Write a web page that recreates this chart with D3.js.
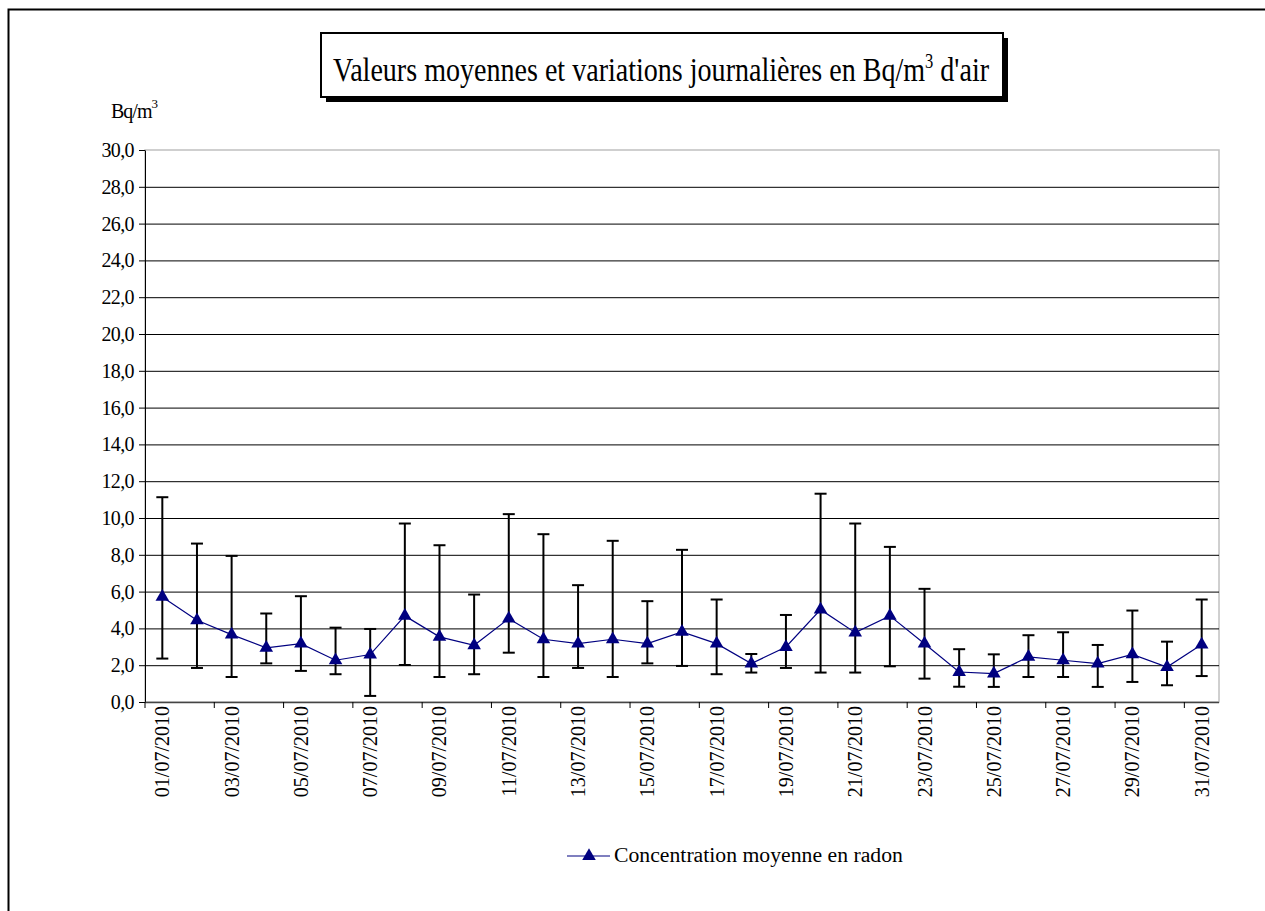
<!DOCTYPE html>
<html>
<head>
<meta charset="utf-8">
<script src="https://cdn.jsdelivr.net/npm/d3@7"></script>
<style>
  body { margin: 0; background: #fff; }
  svg text { font-family: "Liberation Serif", "Times New Roman", Tinos, "DejaVu Serif", serif; }
</style>
</head>
<body>
<svg width="1265" height="911"></svg>
<script>
// daily radon values, July 2010 (Bq/m3)
const days = d3.range(1, 32).map(d => (d < 10 ? "0" + d : "" + d) + "/07/2010");
const means = [5.71, 4.44, 3.66, 2.94, 3.17, 2.27, 2.58, 4.68, 3.54, 3.08, 4.53, 3.41, 3.17, 3.41, 3.17, 3.81,
               3.17, 2.09, 2.99, 5.02, 3.77, 4.68, 3.17, 1.63, 1.54, 2.45, 2.27, 2.09, 2.59, 1.90, 3.12];
const highs = [11.13, 8.61, 7.94, 4.81, 5.75, 4.04, 3.97, 9.70, 8.52, 5.84, 10.21, 9.12, 6.35, 8.76, 5.48, 8.27,
               5.57, 2.61, 4.73, 11.32, 9.70, 8.43, 6.15, 2.87, 2.59, 3.63, 3.79, 3.10, 4.97, 3.28, 5.57];
const lows = [2.36, 1.85, 1.36, 2.10, 1.69, 1.51, 0.33, 2.01, 1.36, 1.51, 2.68, 1.36, 1.85, 1.36, 2.10, 1.96,
              1.51, 1.60, 1.85, 1.60, 1.60, 1.94, 1.27, 0.83, 0.82, 1.36, 1.36, 0.82, 1.09, 0.91, 1.41];
const yTicks = d3.range(0, 31, 2);

const svg = d3.select("svg");
const navy = "#000080";

// outer chart frame (runs off right/bottom)
svg.append("rect")
    .attr("x", 8.5).attr("y", 9.5)
    .attr("width", 1300).attr("height", 950)
    .attr("fill", "none").attr("stroke", "#000").attr("stroke-width", 2);

const x = d3.scaleBand().domain(days).range([145, 1219]).padding(0);
const y = d3.scaleLinear().domain([0, 30]).range([702, 150]);
const cx = d => x(d) + x.bandwidth() / 2;

// plot area border
svg.append("rect")
    .attr("x", 145).attr("y", 150)
    .attr("width", 1219 - 145).attr("height", 702 - 150)
    .attr("fill", "#fff").attr("stroke", "#c0c0c0").attr("stroke-width", 1.5);

// gridlines
svg.append("g").selectAll("line")
    .data(yTicks.filter(t => t > 0 && t < 30))
    .join("line")
    .attr("x1", 145).attr("x2", 1219)
    .attr("y1", d => y(d) + 0.5).attr("y2", d => y(d) + 0.5)
    .attr("stroke", "#000").attr("stroke-width", 1);

// y axis
const yAxis = svg.append("g").attr("transform", "translate(145,0)")
    .call(d3.axisLeft(y).tickValues(yTicks).tickSize(6).tickSizeOuter(0)
        .tickFormat(d => d3.format(".1f")(d).replace(".", ",")));
yAxis.attr("font-family", null).attr("font-size", null);
yAxis.select(".domain").attr("stroke", "#000");
yAxis.selectAll("line").attr("stroke", "#000");
yAxis.selectAll("text")
    .attr("font-size", 20).attr("fill", "#000").attr("x", -11)
    .attr("letter-spacing", -0.6);

// x axis: ticks every two categories
const xTickPos = d3.range(0, 32, 2).map(i => 145 + i * x.bandwidth());
svg.append("line")
    .attr("x1", 145).attr("x2", 1219).attr("y1", 702.5).attr("y2", 702.5)
    .attr("stroke", "#444").attr("stroke-width", 1.5);
svg.append("g").selectAll("line")
    .data(xTickPos)
    .join("line")
    .attr("x1", d => d).attr("x2", d => d)
    .attr("y1", 702).attr("y2", 708)
    .attr("stroke", "#000");
svg.append("g").selectAll("text")
    .data(days.filter((d, i) => i % 2 === 0))
    .join("text")
    .attr("transform", d => `translate(${cx(d) + 7},706) rotate(-90)`)
    .attr("text-anchor", "end")
    .attr("font-size", 20)
    .text(d => d);

// unit label
const unit = svg.append("text").attr("x", 111).attr("y", 118).attr("font-size", 20).attr("letter-spacing", -1);
unit.append("tspan").text("Bq/m");
unit.append("tspan").attr("dy", -10).attr("font-size", 13).text("3");

// error bars
const bars = svg.append("g").attr("stroke", "#000").attr("stroke-width", 2);
days.forEach((d, i) => {
    bars.append("line").attr("x1", cx(d)).attr("x2", cx(d))
        .attr("y1", y(highs[i])).attr("y2", y(lows[i]));
    [highs[i], lows[i]].forEach(v => {
        bars.append("line").attr("x1", cx(d) - 6).attr("x2", cx(d) + 6)
            .attr("y1", y(v)).attr("y2", y(v));
    });
});

// mean line and markers
const line = d3.line().x((d, i) => cx(days[i])).y(d => y(d));
svg.append("path").datum(means)
    .attr("d", line).attr("fill", "none").attr("stroke", navy).attr("stroke-width", 1.2);
const tri = d3.symbol().type(d3.symbolTriangle).size(80);
svg.append("g").selectAll("path")
    .data(means)
    .join("path")
    .attr("d", tri)
    .attr("transform", (d, i) => `translate(${cx(days[i])},${y(d)})`)
    .attr("fill", navy);

// title box with shadow
svg.append("rect").attr("x", 326).attr("y", 38).attr("width", 682).attr("height", 64).attr("fill", "#000");
svg.append("rect").attr("x", 321).attr("y", 33).attr("width", 682).attr("height", 64)
    .attr("fill", "#fff").attr("stroke", "#000").attr("stroke-width", 2);
const title = svg.append("text").attr("x", 0).attr("y", 0).attr("font-size", 34);
title.append("tspan").text("Valeurs moyennes et variations journalières en Bq/m");
title.append("tspan").attr("dy", -13).attr("font-size", 20).text("3");
title.append("tspan").attr("dy", 13).text(" d'air");
const tb = title.node().getBBox();
title.attr("transform", `translate(333,81) scale(${657 / tb.width},1)`);

// legend
const lg = svg.append("g");
lg.append("line").attr("x1", 567).attr("x2", 610).attr("y1", 856).attr("y2", 856)
    .attr("stroke", navy).attr("stroke-width", 1.2);
lg.append("path").attr("d", tri).attr("transform", "translate(589,856)").attr("fill", navy);
const lt = lg.append("text").attr("font-size", 20).text("Concentration moyenne en radon");
const lb = lt.node().getBBox();
lt.attr("transform", `translate(614,862) scale(${289 / lb.width},1)`);
</script>
</body>
</html>
